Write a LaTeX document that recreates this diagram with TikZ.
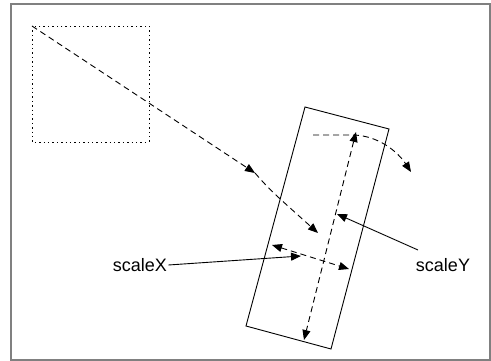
\documentclass[tikz,border=0pt]{standalone}
\usepackage{fontspec}
\setmainfont{Liberation Sans}
\usetikzlibrary{arrows.meta}

\begin{document}
\begin{tikzpicture}[
  x=1pt, y=-1pt,
  line width=0.9pt,
  tip/.style={-{Triangle[length=10pt,width=8pt]}},
  twotips/.style={{Triangle[length=10pt,width=8pt]}-{Triangle[length=10pt,width=8pt]}},
  dashline/.style={dash pattern=on 6pt off 4pt},
  dotline/.style={dash pattern=on 1.4pt off 3pt},
  label/.style={font=\fontsize{18}{20}\selectfont, inner sep=1pt}
]
\useasboundingbox (0,0) rectangle (491,361);
\draw[gray, line width=1.2pt] (11,4) rectangle (490,360);

% original square
\coordinate (sq1) at (32,26);
\coordinate (sq2) at (149,142);
\draw[dotline] (sq1) rectangle (sq2);

% scaled and rotated box
\coordinate (b1) at (305,107);
\coordinate (b2) at (389,129);
\coordinate (b3) at (331,349);
\coordinate (b4) at (246,326);
\draw (b1) -- (b2) -- (b3) -- (b4) -- cycle;

% move
\coordinate (mv) at (255,173);
\coordinate (ctr) at (318,233);
\draw[dashline, tip] (sq1) -- (mv);
\draw[dashline, tip] (mv) .. controls (270,190) .. (ctr);

% rotate
\coordinate (r1) at (313,135);
\coordinate (r2) at (352,135);
\coordinate (r3) at (411,172);
\draw[dashline, tip] (r1) -- (r2) .. controls (378,135) and (398,152) .. (r3);

% scale axes
\coordinate (ytop) at (356,132);
\coordinate (ybot) at (304,340);
\draw[dashline, twotips] (ytop) -- (ybot);
\coordinate (xl) at (272,245);
\coordinate (xr) at (349,269);
\draw[dashline, twotips] (xl) -- (xr);

% labels
\node[label] (sx) at (140,265) {scaleX};
\node[label] (sy) at (443,265) {scaleY};
\coordinate (sxend) at (301,256);
\coordinate (systart) at (418,250);
\coordinate (syend) at (337,214);
\draw[tip] (sx.east) -- (sxend);
\draw[tip] (systart) -- (syend);
\end{tikzpicture}
\end{document}
